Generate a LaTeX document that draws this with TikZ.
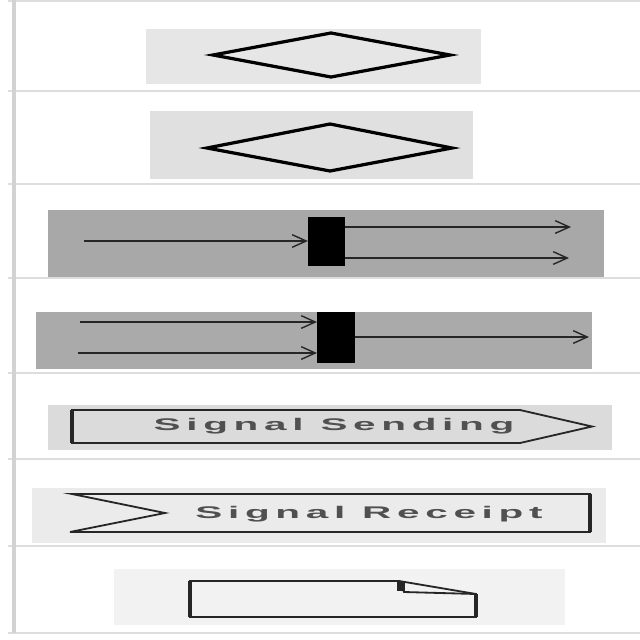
\documentclass[tikz,border=0pt]{standalone}
\usepackage{fontspec}
\setsansfont{Liberation Sans}
\usetikzlibrary{arrows.meta}

\definecolor{rulegray}{HTML}{DDDDDD}
\definecolor{edgegray}{HTML}{D2D2D2}
\definecolor{lightpanel}{HTML}{E6E6E6}
\definecolor{midpanel}{HTML}{E0E0E0}
\definecolor{darkpanel}{HTML}{A8A8A8}
\definecolor{labelgray}{HTML}{505050}

\newcommand{\widetext}[1]{\scalebox{2.4}[1.0]{#1}}

\begin{document}
\begin{tikzpicture}[x=0.025cm,y=-0.025cm,
    every node/.style={font=\sffamily},
    shapeline/.style={black, line width=2.3pt, line join=miter},
    sigline/.style={black!85, line width=1.3pt},
    flow/.style={black!85, line width=1pt, -{Straight Barb[length=10pt,width=9pt,line width=1pt]}},
    bar/.style={fill=black, inner sep=0pt, outer sep=0pt},
    siglabel/.style={labelgray,
      font=\sffamily\bfseries\fontsize{12}{14}\selectfont\addfontfeature{LetterSpace=14}}]
    \useasboundingbox (0,0) rectangle (640,640);

    % Rejilla de filas
    \foreach \y in {1,91,184,278,373,459,546,633}
      \draw[rulegray, line width=1.2pt] (8,\y) -- (640,\y);
    \draw[edgegray, line width=3pt] (14,0) -- (14,633);

    % Fondos de las figuras
    \fill[lightpanel]     (146,29)  rectangle (481,84);
    \fill[midpanel]       (150,111) rectangle (473,179);
    \fill[darkpanel]      (48,210)  rectangle (604,277);
    \fill[darkpanel!98!white] (36,312) rectangle (592,369);
    \fill[black!14]       (48,405)  rectangle (612,450);
    \fill[black!8]        (32,488)  rectangle (606,543);
    \fill[black!5]        (114,569) rectangle (565,625);

    % Decision
    \draw[shapeline] (213,55) -- (331,33) -- (450,55) -- (331,77) -- cycle;

    % Merge
    \draw[shapeline] (207,148) -- (330,124) -- (452,148) -- (330,171) -- cycle;

    % Fork
    \node[bar, minimum width=0.93cm, minimum height=1.23cm] (fork) at (326.5,241.5) {};
    \coordinate (forkin)   at (84,241);
    \coordinate (forkouta) at (571,227);
    \coordinate (forkoutb) at (569,258);
    \draw[flow] (forkin) -- (fork.west |- forkin);
    \draw[flow] (fork.east |- forkouta) -- (forkouta);
    \draw[flow] (fork.east |- forkoutb) -- (forkoutb);

    % Join
    \node[bar, minimum width=0.95cm, minimum height=1.28cm] (join) at (336,337.5) {};
    \coordinate (joinina) at (80,322);
    \coordinate (joininb) at (78,353);
    \coordinate (joinout) at (589,337);
    \draw[flow] (joinina) -- (join.west |- joinina);
    \draw[flow] (joininb) -- (join.west |- joininb);
    \draw[flow] (join.east |- joinout) -- (joinout);

    % Signal Sending
    \draw[sigline] (72,410) -- (520,410) -- (592,426.5) -- (520,443) -- (72,443) -- cycle;
    \draw[black!85, line width=3.5pt] (72,410) -- (72,443);
    \node[siglabel] (sendtext) at (334,426.5) {\widetext{Signal Sending}};

    % Signal Receipt
    \draw[sigline] (72,494) -- (590,494) -- (590,532) -- (70,532) -- (165,513) -- cycle;
    \draw[black!85, line width=3.5pt] (590,494) -- (590,532);
    \node[siglabel] (recvtext) at (369,514) {\widetext{Signal Receipt}};

    % Objeto (hoja con esquina doblada)
    \draw[sigline] (190,581) -- (399,581) -- (476,594) -- (476,617) -- (190,617) -- cycle;
    \draw[sigline] (399,581) -- (404,592) -- (476,594);
    \fill[black!85] (397,581) rectangle (405,591);
    \draw[black!85, line width=3.5pt] (190,581) -- (190,617);
    \draw[black!85, line width=3.5pt] (476,594) -- (476,617);
  \end{tikzpicture}
\end{document}
